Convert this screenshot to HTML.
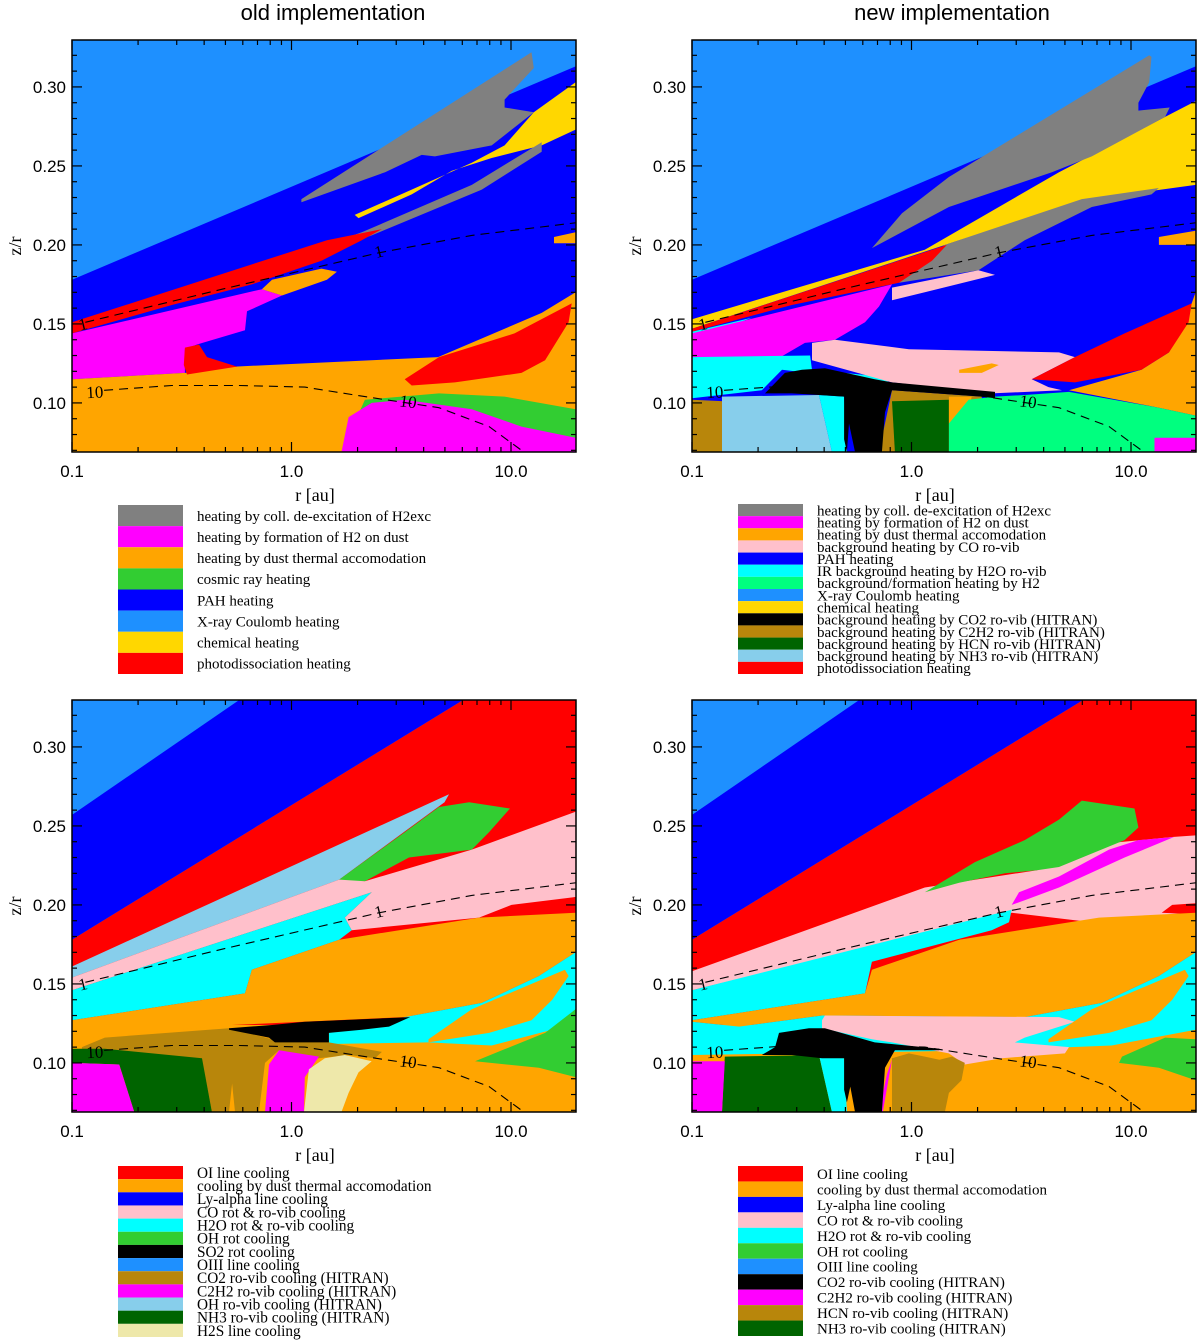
<!DOCTYPE html>
<html><head><meta charset="utf-8"><title>Heating/cooling maps</title>
<style>
html,body{margin:0;padding:0;background:#fff;}
svg{display:block;}
.sans{font-family:"Liberation Sans",sans-serif;}
.serif{font-family:"Liberation Serif",serif;}
</style></head>
<body>
<svg id="fig" width="1200" height="1342" viewBox="0 0 1200 1342" xmlns="http://www.w3.org/2000/svg">
<text class="sans" x="333" y="20" font-size="22" text-anchor="middle">old implementation</text>
<text class="sans" x="952" y="20" font-size="22" text-anchor="middle">new implementation</text>
</svg>
<script>
// ---------- axis data ----------
const xMajorTicks=[0.1,1,10];
const xMajorLabels=["0.1","1.0","10.0"];
const xMinorTicks=[0.2,0.3,0.4,0.5,0.6,0.7,0.8,0.9,2,3,4,5,6,7,8,9];
const yMajorTicks=[0.10,0.15,0.20,0.25,0.30];
const yMajorLabels=["0.10","0.15","0.20","0.25","0.30"];
const yMinorTicks=[0.07,0.08,0.09,0.11,0.12,0.13,0.14,0.16,0.17,0.18,0.19,0.21,0.22,0.23,0.24,0.26,0.27,0.28,0.29,0.31,0.32];
// contours (tau=1 and tau=10)
const contour1R=[0.115,0.483,2.5,6.63,19.7];
const contour1Z=[0.151,0.172,0.195,0.206,0.214];
const contour10R=[0.14,0.285,0.575,1.15,2.16,4.70,7.95,11.16];
const contour10Z=[0.108,0.111,0.111,0.110,0.104,0.097,0.085,0.070];

const C={xray:'#1e90ff',pah:'#0000ff',gray:'#808080',gold:'#ffd700',red:'#ff0000',mag:'#ff00ff',orange:'#ffa500',green:'#32cd32',pink:'#ffc0cb',cyan:'#00ffff',spring:'#00ff7f',black:'#000000',brown:'#b8860b',dkgreen:'#006400',sky:'#87ceeb',cream:'#eee8aa'};

// ---------- region data (r in au, z/r) ----------
const regionsTL=[
 {n:'pah-heating',c:C.pah,r:[0.1,19.7,19.7,0.1],z:[0.178,0.313,0.069,0.069]},
 {n:'h2exc-heating-upper',c:C.gray,r:[1.11,12.4,12.7,9.35,9.35,12.7,8.17,4.50,3.92,2.67,1.11],z:[0.229,0.322,0.312,0.292,0.287,0.284,0.263,0.256,0.257,0.246,0.227]},
 {n:'chemical-heating',c:C.gold,r:[1.94,3.53,6.63,9.35,10.05,12.7,19.7,19.7,13.8,8.17,5.38,3.53,2.02],z:[0.219,0.235,0.252,0.263,0.268,0.284,0.303,0.273,0.263,0.255,0.247,0.232,0.217]},
 {n:'h2exc-heating-lower',c:C.gray,r:[0.68,2.09,6.63,13.8,13.8,7.36,2.32,1.53,0.697],z:[0.184,0.208,0.238,0.265,0.259,0.235,0.206,0.197,0.182]},
 {n:'photodissociation-heating',c:C.red,r:[0.1,1.45,2.58,2.09,1.37,0.66,0.285,0.1],z:[0.151,0.203,0.210,0.203,0.190,0.175,0.162,0.144]},
 {n:'h2-formation-heating',c:C.mag,r:[0.1,0.733,0.905,0.627,0.614,0.371,0.327,0.327,0.1],z:[0.144,0.172,0.168,0.158,0.146,0.137,0.134,0.119,0.115]},
 {n:'dust-heating-blob',c:C.orange,r:[0.733,0.815,1.37,1.61,1.45,0.905],z:[0.172,0.178,0.185,0.183,0.178,0.168]},
 {n:'dust-heating',c:C.orange,r:[0.1,0.327,0.553,4.65,13.8,19.7,19.7,0.1],z:[0.115,0.119,0.123,0.129,0.157,0.170,0.069,0.069]},
 {n:'photodissociation-small',c:C.red,r:[0.327,0.379,0.412,0.565,0.334,0.323],z:[0.135,0.137,0.129,0.123,0.118,0.124]},
 {n:'photodissociation-right',c:C.red,r:[3.28,4.70,10.37,18.9,18.3,14.3,11.16,5.55,3.53],z:[0.115,0.129,0.144,0.163,0.151,0.127,0.119,0.113,0.111]},
 {n:'dust-heating-edge',c:C.orange,r:[15.7,19.7,19.7,15.7],z:[0.205,0.208,0.201,0.201]},
 {n:'cosmic-ray-heating',c:C.green,r:[1.69,2.16,4.70,9.35,19.7,19.7],z:[0.069,0.102,0.106,0.104,0.096,0.069]},
 {n:'h2-formation-bottom',c:C.mag,r:[1.69,1.82,2.32,3.28,6.63,11.16,19.7,19.7],z:[0.069,0.091,0.100,0.102,0.096,0.085,0.078,0.069]}
];
const regionsTR=[
 {n:'pah-heating',c:C.pah,r:[0.1,19.7,19.7,0.1],z:[0.178,0.313,0.069,0.069]},
 {n:'chemical-heating',c:C.gold,r:[0.1,1.15,4.70,14.3,19.7,19.7,6.63,1.65,0.1],z:[0.153,0.197,0.246,0.281,0.291,0.238,0.229,0.203,0.147]},
 {n:'h2exc-heating-upper',c:C.gray,r:[0.66,0.905,1.48,12.1,12.4,12.1,10.81,10.81,15.0,14.3,6.63,4.36,1.48],z:[0.198,0.220,0.243,0.320,0.319,0.303,0.290,0.285,0.287,0.281,0.256,0.246,0.224]},
 {n:'h2exc-heating-lower',c:C.gray,r:[0.877,1.42,5.97,13.4,12.4,6.63,3.28,2.02,0.877],z:[0.178,0.200,0.229,0.236,0.232,0.224,0.203,0.184,0.176]},
 {n:'photodissociation-heating',c:C.red,r:[0.1,1.45,1.24,0.877,0.285,0.1],z:[0.147,0.200,0.190,0.176,0.162,0.145]},
 {n:'co-rovib-heating-small',c:C.pink,r:[0.815,2.02,2.40,1.15,0.815],z:[0.173,0.184,0.181,0.170,0.165]},
 {n:'h2o-heating-top',c:C.cyan,r:[0.1,0.188,0.1],z:[0.145,0.154,0.140]},
 {n:'h2-formation-heating',c:C.mag,r:[0.1,0.815,0.711,0.614,0.448,0.327,0.239,0.1],z:[0.144,0.175,0.161,0.151,0.140,0.138,0.127,0.127]},
 {n:'h2o-heating',c:C.cyan,r:[0.1,0.345,0.352,0.815,0.773,0.257,0.208,0.1],z:[0.129,0.130,0.121,0.116,0.113,0.121,0.108,0.103]},
 {n:'co-rovib-heating',c:C.pink,r:[0.352,0.448,0.973,4.70,5.55,3.53,4.21,4.85,2.32,0.815,0.68,0.352],z:[0.138,0.140,0.134,0.132,0.129,0.115,0.110,0.108,0.106,0.113,0.116,0.127]},
 {n:'dust-heating-blob',c:C.orange,r:[1.65,2.32,2.50,2.09,1.65],z:[0.121,0.125,0.124,0.119,0.119]},
 {n:'dust-heating-right',c:C.orange,r:[5.22,11.16,14.9,18.9,19.7,19.7,13.4],z:[0.108,0.121,0.132,0.163,0.170,0.092,0.097]},
 {n:'photodissociation-right',c:C.red,r:[3.53,5.55,9.35,18.9,18.3,14.9,11.16,5.55],z:[0.115,0.129,0.144,0.163,0.151,0.132,0.121,0.113]},
 {n:'dust-heating-edge',c:C.orange,r:[13.4,19.7,19.7,13.4],z:[0.205,0.209,0.200,0.200]},
 {n:'c2h2-heating-left',c:C.brown,r:[0.1,0.14,0.137,0.1],z:[0.102,0.101,0.069,0.069]},
 {n:'nh3-heating',c:C.sky,r:[0.137,0.379,0.434,0.137],z:[0.104,0.105,0.069,0.069]},
 {n:'h2o-heating-column',c:C.cyan,r:[0.379,0.493,0.508,0.434],z:[0.105,0.104,0.069,0.069]},
 {n:'c2h2-heating',c:C.brown,r:[0.711,0.815,2.09,2.09,1.53,1.48],z:[0.069,0.108,0.104,0.101,0.099,0.069]},
 {n:'hcn-heating',c:C.dkgreen,r:[0.84,0.815,1.48,1.48],z:[0.069,0.101,0.102,0.069]},
 {n:'dust-heating-patch',c:C.orange,r:[1.48,1.88,1.82,1.48],z:[0.104,0.104,0.094,0.087]},
 {n:'h2-background-heating',c:C.spring,r:[1.48,1.48,1.82,2.40,3.28,5.22,13.4,19.7,19.7],z:[0.069,0.087,0.102,0.104,0.105,0.107,0.097,0.092,0.069]},
 {n:'co2-heating',c:C.black,r:[0.215,0.265,0.317,0.403,0.68,0.815,2.40,2.40,2.09,0.815,0.757,0.733,0.553,0.519,0.508,0.493,0.493,0.379,0.285],z:[0.106,0.119,0.121,0.122,0.115,0.113,0.107,0.103,0.104,0.108,0.094,0.069,0.069,0.087,0.069,0.077,0.104,0.105,0.106]},
 {n:'h2-formation-bottom',c:C.mag,r:[12.8,19.7,19.7,12.8],z:[0.078,0.078,0.069,0.069]}
];
const regionsBL=[
 {n:'lyalpha-cooling',c:C.pah,r:[0.1,0.582,6.11,0.1],z:[0.257,0.330,0.330,0.178]},
 {n:'oi-cooling',c:C.red,r:[0.1,6.11,19.7,19.7,0.1],z:[0.178,0.330,0.330,0.069,0.069]},
 {n:'dust-cooling-base',c:C.orange,r:[0.1,19.7,19.7,0.1],z:[0.124,0.124,0.069,0.069]},
 {n:'oh-rovib-cooling',c:C.sky,r:[0.1,5.22,4.98,1.65,0.1],z:[0.161,0.270,0.265,0.216,0.154]},
 {n:'oh-rot-cooling',c:C.green,r:[1.65,3.28,4.70,6.44,9.9,7.94,6.63,3.43,2.16,1.65],z:[0.216,0.246,0.262,0.265,0.261,0.246,0.235,0.230,0.215,0.215]},
 {n:'co-cooling',c:C.pink,r:[0.1,1.65,2.16,6.63,19.7,19.7,7.15,1.88,1.75,2.32,0.1],z:[0.154,0.216,0.215,0.235,0.259,0.205,0.192,0.184,0.192,0.208,0.146]},
 {n:'oi-cooling-patch',c:C.red,r:[7.15,10.05,19.7,19.7],z:[0.192,0.200,0.205,0.195]},
 {n:'h2o-cooling',c:C.cyan,r:[0.1,2.32,1.75,1.88,1.65,0.66,0.614,0.1],z:[0.146,0.208,0.192,0.184,0.178,0.159,0.144,0.127]},
 {n:'dust-cooling',c:C.orange,r:[0.1,0.614,0.66,1.65,7.15,19.7,19.7,13.4,7.36,3.28,0.536,0.1],z:[0.127,0.144,0.159,0.178,0.192,0.195,0.170,0.155,0.138,0.129,0.124,0.115]},
 {n:'h2o-cooling-right',c:C.cyan,r:[1.48,1.48,3.28,7.36,13.4,19.7,19.7,15.4,8.17,4.21,1.48],z:[0.113,0.119,0.129,0.138,0.155,0.170,0.134,0.121,0.111,0.113,0.112]},
 {n:'dust-cooling-inner',c:C.orange,r:[4.21,6.63,17.6,18.3,15.4,12.4,7.94,4.21],z:[0.115,0.134,0.159,0.155,0.140,0.127,0.119,0.113]},
 {n:'oh-rot-cooling-right',c:C.green,r:[6.86,9.1,14.3,19.7,19.7,13.4],z:[0.101,0.108,0.119,0.134,0.091,0.097]},
 {n:'co2-cooling',c:C.brown,r:[0.111,0.141,0.519,0.815,1.48,2.58,2.40,1.82,1.15,0.877,0.757,0.711,0.553,0.536,0.519,0.434,0.391,0.152,0.111],z:[0.110,0.116,0.122,0.115,0.113,0.107,0.103,0.105,0.102,0.108,0.100,0.069,0.069,0.087,0.069,0.069,0.102,0.104,0.105]},
 {n:'nh3-cooling',c:C.dkgreen,r:[0.1,0.141,0.391,0.434,0.192,0.164,0.1],z:[0.109,0.109,0.103,0.069,0.069,0.099,0.100]},
 {n:'c2h2-cooling-left',c:C.mag,r:[0.1,0.164,0.192,0.1],z:[0.100,0.099,0.069,0.069]},
 {n:'c2h2-cooling',c:C.mag,r:[0.757,0.79,0.877,1.335,1.15,1.14],z:[0.069,0.099,0.108,0.104,0.091,0.069]},
 {n:'h2s-cooling',c:C.cream,r:[1.14,1.20,1.42,1.75,2.32,2.02,1.82,1.69],z:[0.069,0.096,0.103,0.105,0.101,0.094,0.081,0.069]},
 {n:'so2-cooling',c:C.black,r:[0.519,0.815,1.15,3.47,2.78,2.09,1.48,1.48,0.84,0.79,0.519],z:[0.122,0.124,0.126,0.129,0.123,0.121,0.119,0.113,0.113,0.116,0.121]}
];
const regionsBR=[
 {n:'lyalpha-cooling',c:C.pah,r:[0.1,0.582,6.11,0.1],z:[0.257,0.330,0.330,0.178]},
 {n:'oi-cooling',c:C.red,r:[0.1,6.11,19.7,19.7,0.1],z:[0.178,0.330,0.330,0.069,0.069]},
 {n:'dust-cooling-base',c:C.orange,r:[0.1,19.7,19.7,0.1],z:[0.124,0.124,0.069,0.069]},
 {n:'co-cooling',c:C.pink,r:[0.1,1.15,3.73,6.63,15.4,19.7,19.7,6.63,2.86,0.1],z:[0.158,0.211,0.222,0.238,0.243,0.244,0.192,0.189,0.195,0.146]},
 {n:'oi-cooling-patch',c:C.red,r:[13.8,15.4,19.7,19.7],z:[0.195,0.200,0.201,0.194]},
 {n:'oh-rot-cooling',c:C.green,r:[1.15,1.94,3.28,4.70,5.97,10.37,10.81,9.35,4.70,3.73,2.67,1.65],z:[0.208,0.227,0.241,0.254,0.266,0.261,0.249,0.241,0.224,0.222,0.220,0.214]},
 {n:'c2h2-cooling-upper',c:C.mag,r:[2.86,3.09,4.70,7.94,10.81,15.7,9.35,4.70,3.28],z:[0.200,0.208,0.218,0.235,0.241,0.243,0.230,0.211,0.203]},
 {n:'h2o-cooling',c:C.cyan,r:[0.1,2.86,2.78,2.32,0.66,0.614,0.1],z:[0.146,0.197,0.189,0.184,0.164,0.144,0.127]},
 {n:'dust-cooling',c:C.orange,r:[0.1,0.614,0.66,1.65,7.15,19.7,19.7,13.4,7.36,3.28,0.391,0.164,0.1],z:[0.127,0.144,0.159,0.178,0.192,0.195,0.170,0.155,0.138,0.129,0.130,0.123,0.126]},
 {n:'h2o-cooling-low',c:C.cyan,r:[0.1,0.164,0.391,3.28,7.36,13.4,19.7,19.7,8.17,2.32,0.1],z:[0.126,0.123,0.130,0.129,0.138,0.155,0.170,0.121,0.111,0.108,0.105]},
 {n:'co-cooling-low',c:C.pink,r:[0.391,0.403,4.70,5.55,3.28,2.96,5.22,5.0,2.58,1.75,1.48,0.815,0.66,0.391],z:[0.127,0.130,0.129,0.126,0.116,0.113,0.110,0.106,0.103,0.099,0.106,0.113,0.115,0.122]},
 {n:'dust-cooling-inner',c:C.orange,r:[4.21,6.63,17.6,18.3,15.4,12.4,7.94,4.21],z:[0.115,0.134,0.159,0.155,0.140,0.127,0.119,0.113]},
 {n:'oh-rot-cooling-right',c:C.green,r:[9.1,14.3,19.7,19.7,13.4,8.82],z:[0.104,0.116,0.115,0.089,0.097,0.100]},
 {n:'nh3-cooling',c:C.dkgreen,r:[0.137,0.141,0.379,0.434],z:[0.069,0.104,0.105,0.069]},
 {n:'c2h2-cooling-left',c:C.mag,r:[0.1,0.1,0.141,0.137],z:[0.069,0.101,0.101,0.069]},
 {n:'h2o-cooling-column',c:C.cyan,r:[0.379,0.493,0.508,0.434],z:[0.105,0.103,0.069,0.069]},
 {n:'c2h2-cooling-mid',c:C.mag,r:[0.711,0.773,0.815,0.74],z:[0.069,0.093,0.102,0.069]},
 {n:'hcn-cooling',c:C.brown,r:[0.815,0.815,0.973,1.15,1.34,1.53,1.75,1.69,1.48,1.42],z:[0.069,0.103,0.106,0.104,0.102,0.104,0.100,0.089,0.081,0.069]},
 {n:'co2-cooling',c:C.black,r:[0.208,0.239,0.249,0.341,0.403,0.68,1.34,1.34,0.84,0.757,0.733,0.553,0.526,0.508,0.493,0.493,0.391,0.285],z:[0.105,0.110,0.119,0.122,0.122,0.113,0.109,0.108,0.108,0.097,0.069,0.069,0.085,0.075,0.083,0.103,0.103,0.105]}
];

// ---------- legends ----------
const legendTLLabels=["heating by coll. de-excitation of H2exc","heating by formation of H2 on dust","heating by dust thermal accomodation","cosmic ray heating","PAH heating","X-ray Coulomb heating","chemical heating","photodissociation heating"];
const legendTLColors=[C.gray,C.mag,C.orange,C.green,C.pah,C.xray,C.gold,C.red];
const legendTRLabels=["heating by coll. de-excitation of H2exc","heating by formation of H2 on dust","heating by dust thermal accomodation","background heating by CO ro-vib","PAH heating","IR background heating by H2O ro-vib","background/formation heating by H2","X-ray Coulomb heating","chemical heating","background heating by CO2 ro-vib (HITRAN)","background heating by C2H2 ro-vib (HITRAN)","background heating by HCN ro-vib (HITRAN)","background heating by NH3 ro-vib (HITRAN)","photodissociation heating"];
const legendTRColors=[C.gray,C.mag,C.orange,C.pink,C.pah,C.cyan,C.spring,C.xray,C.gold,C.black,C.brown,C.dkgreen,C.sky,C.red];
const legendBLLabels=["OI line cooling","cooling by dust thermal accomodation","Ly-alpha line cooling","CO rot & ro-vib cooling","H2O rot & ro-vib cooling","OH rot cooling","SO2 rot cooling","OIII line cooling","CO2 ro-vib cooling (HITRAN)","C2H2 ro-vib cooling (HITRAN)","OH ro-vib cooling (HITRAN)","NH3 ro-vib cooling (HITRAN)","H2S line cooling"];
const legendBLColors=[C.red,C.orange,C.pah,C.pink,C.cyan,C.green,C.black,C.xray,C.brown,C.mag,C.sky,C.dkgreen,C.cream];
const legendBRLabels=["OI line cooling","cooling by dust thermal accomodation","Ly-alpha line cooling","CO rot & ro-vib cooling","H2O rot & ro-vib cooling","OH rot cooling","OIII line cooling","CO2 ro-vib cooling (HITRAN)","C2H2 ro-vib cooling (HITRAN)","HCN ro-vib cooling (HITRAN)","NH3 ro-vib cooling (HITRAN)"];
const legendBRColors=[C.red,C.orange,C.pah,C.pink,C.cyan,C.green,C.xray,C.black,C.mag,C.brown,C.dkgreen];

const NS='http://www.w3.org/2000/svg';
const svg=document.getElementById('fig');
const PW=504, PH=412;
function xs(r){return (Math.log10(r)+1)*219.5;}
function ys(z){return (0.3297-z)*1580;}
function mk(tag,attrs,parent){const e=document.createElementNS(NS,tag);for(const k in attrs)e.setAttribute(k,attrs[k]);(parent||svg).appendChild(e);return e;}

function drawPanel(id,ox,oy,regions){
  const g=mk('g',{transform:`translate(${ox},${oy})`});
  
  
  const cp=mk('clipPath',{id:id+'-clip'},g);
  mk('rect',{x:0,y:0,width:PW,height:PH},cp);
  const mg=mk('g',{'clip-path':`url(#${id}-clip)`},g);
  const bg=mk('rect',{x:0,y:0,width:PW,height:PH,fill:C.xray},mg);
  
  
  regions.forEach(rg=>{
    const pts=rg.r.map((r,i)=>xs(r).toFixed(1)+','+ys(rg.z[i]).toFixed(1)).join(' ');
    const p=mk('polygon',{points:pts,fill:rg.c},mg);
    
    
  });
  [[contour1R,contour1Z,'contour-tau-1'],[contour10R,contour10Z,'contour-tau-10']].forEach(([R,Z,nm])=>{
    const pts=R.map((r,i)=>xs(r).toFixed(1)+','+ys(Z[i]).toFixed(1)).join(' ');
    const l=mk('polyline',{points:pts,fill:'none',stroke:'#000','stroke-width':1.1,'stroke-dasharray':'9,6'},mg);
    
    
  });
  [[0.112,0.150,'1',-14],[2.5,0.196,'1',-14],[0.127,0.107,'10',-3],[3.4,0.101,'10',8]].forEach(([r,z,t,a])=>{
    const tx=mk('text',{x:xs(r),y:ys(z)+6,'font-size':17,'text-anchor':'middle',class:'serif',transform:`rotate(${a} ${xs(r)} ${ys(z)})`},mg);
    tx.textContent=t;
    
    
  });
  const fr=mk('rect',{x:0,y:0,width:PW,height:PH,fill:'none',stroke:'#000','stroke-width':1.5},g);
  
  
  const tk=mk('g',{stroke:'#000','stroke-width':1.2},g);
  
  
  xMajorTicks.forEach(v=>{const x=xs(v);mk('line',{x1:x,x2:x,y1:PH,y2:PH-10},tk);mk('line',{x1:x,x2:x,y1:0,y2:10},tk);});
  xMinorTicks.forEach(v=>{const x=xs(v);mk('line',{x1:x,x2:x,y1:PH,y2:PH-5},tk);mk('line',{x1:x,x2:x,y1:0,y2:5},tk);});
  yMajorTicks.forEach(v=>{const y=ys(v);mk('line',{x1:0,x2:10,y1:y,y2:y},tk);mk('line',{x1:PW,x2:PW-10,y1:y,y2:y},tk);});
  yMinorTicks.forEach(v=>{const y=ys(v);mk('line',{x1:0,x2:5,y1:y,y2:y},tk);mk('line',{x1:PW,x2:PW-5,y1:y,y2:y},tk);});
  xMajorTicks.forEach((v,i)=>{const t=mk('text',{x:xs(v),y:PH+25,'font-size':17,'text-anchor':'middle',class:'sans'},g);t.textContent=xMajorLabels[i];
    
    });
  yMajorTicks.forEach((v,i)=>{const t=mk('text',{x:-6,y:ys(v)+6,'font-size':17,'text-anchor':'end',class:'sans'},g);t.textContent=yMajorLabels[i];
    
    });
  const xt=mk('text',{x:PW/2-9,y:PH+49,'font-size':18,'text-anchor':'middle',class:'serif'},g);xt.textContent='r [au]';
  
  
  const yt=mk('text',{x:-51,y:PH/2,'font-size':18,'text-anchor':'middle',class:'serif',transform:`rotate(-90 -51 ${PH/2})`},g);yt.textContent='z/r';
  
  
}
drawPanel('heating-old',72,40,regionsTL);
drawPanel('heating-new',692,40,regionsTR);
drawPanel('cooling-old',72,700,regionsBL);
drawPanel('cooling-new',692,700,regionsBR);

function drawLegend(id,x,top,bottom,labels,colors,fs){
  const g=mk('g',{});
  
  
  const h=(bottom-top)/labels.length;
  labels.forEach((lb,i)=>{
    const y=top+i*h;
    const s=mk('rect',{x:x,y:y,width:65,height:h,fill:colors[i]},g);
    
    
    const t=mk('text',{x:x+79,y:y+h/2+fs*0.35,'font-size':fs,class:'serif'},g);
    t.textContent=lb;
    
    
  });
}
drawLegend('legend-heating-old',118,505,674,legendTLLabels,legendTLColors,15);
drawLegend('legend-heating-new',738,504,674,legendTRLabels,legendTRColors,15);
drawLegend('legend-cooling-old',118,1166,1337,legendBLLabels,legendBLColors,15.3);
drawLegend('legend-cooling-new',738,1166,1336,legendBRLabels,legendBRColors,15);
</script>
</body></html>
